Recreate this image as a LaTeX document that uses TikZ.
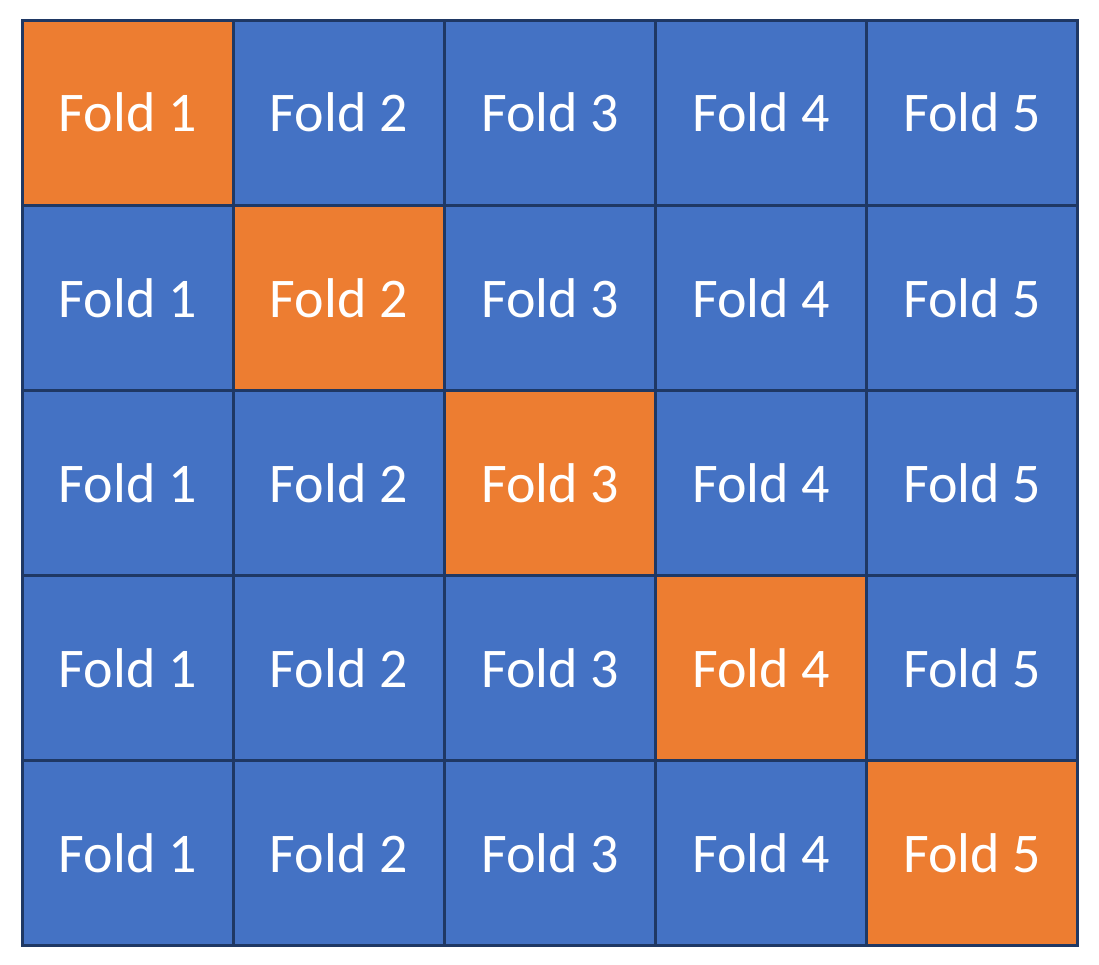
\documentclass[tikz,border=0pt]{standalone}
\usepackage{fontspec}
\setmainfont{Carlito}
\usetikzlibrary{positioning}
\definecolor{foldblue}{HTML}{4472C4}
\definecolor{foldorange}{HTML}{ED7D31}
\definecolor{foldline}{HTML}{1F3864}
\begin{document}
\begin{tikzpicture}[
    fold/.style={rectangle, draw=foldline, line width=3pt, fill=foldblue,
                 minimum width=211pt, minimum height=185pt, inner sep=0pt,
                 text=white, font=\fontsize{56}{60}\selectfont},
    test/.style={fill=foldorange}
]
  \useasboundingbox (0,0) rectangle (1099pt,-965pt);
  % grid of folds, test fold on the diagonal
  \foreach \r in {1,...,5} {
    \foreach \c in {1,...,5} {
      \ifnum\r=\c
        \node[fold, test] (cell-\r-\c) at ({22pt+211.2pt*(\c-0.5)}, {-20pt-185.2pt*(\r-0.5)}) {Fold \c};
      \else
        \node[fold] (cell-\r-\c) at ({22pt+211.2pt*(\c-0.5)}, {-20pt-185.2pt*(\r-0.5)}) {Fold \c};
      \fi
    }
  }
\end{tikzpicture}
\end{document}
